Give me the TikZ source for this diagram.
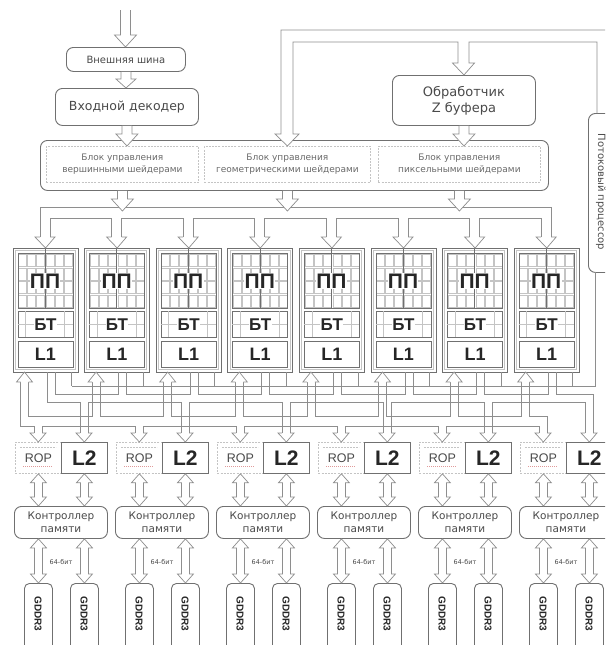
\documentclass[tikz,border=0pt]{standalone}
\usepackage{fontspec}
\setmainfont{DejaVu Sans}
\newfontfamily\arialf{Liberation Sans}
\usetikzlibrary{calc}
\definecolor{ln}{HTML}{8E8E8E}
\definecolor{bx}{HTML}{707070}
\definecolor{tx}{HTML}{4A4A4A}
\definecolor{tx2}{HTML}{6A6A6A}
\definecolor{grd}{HTML}{C4C4C4}
\definecolor{ropred}{HTML}{E09A9A}
\tikzset{
  rbox/.style={draw=bx, line width=0.9pt, rounded corners=7pt, fill=white, inner sep=0pt, align=center, text=tx, anchor=north west},
  sqbox/.style={draw=bx, line width=0.8pt, fill=white, inner sep=0pt, align=center, anchor=north west},
  dbox/.style={draw=grd, line width=0.8pt, dash pattern=on 2pt off 1.2pt, fill=white, inner sep=0pt, align=center, text=tx2, anchor=north west},
  wire/.style={draw=ln, line width=0.7pt, line join=miter},
  harr/.style={draw=ln, line width=0.7pt, fill=white, line join=miter},
  hdown/.style={harr, to path={let \p1=(\tikztostart), \p2=(\tikztotarget) in
     (\x1-5pt,\y1) -- (\x1-5pt,\y2+12pt) -- (\x1-11pt,\y2+12pt) -- (\x1,\y2) -- (\x1+11pt,\y2+12pt) -- (\x1+5pt,\y2+12pt) -- (\x1+5pt,\y1)}},
  hdowns/.style={harr, to path={let \p1=(\tikztostart), \p2=(\tikztotarget) in
     (\x1-5pt,\y1) -- (\x1-5pt,\y2+9pt) -- (\x1-10pt,\y2+9pt) -- (\x1,\y2) -- (\x1+10pt,\y2+9pt) -- (\x1+5pt,\y2+9pt) -- (\x1+5pt,\y1)}},
  hdd/.style={harr, to path={let \p1=(\tikztostart), \p2=(\tikztotarget) in
     (\x1,\y1) -- (\x1-8pt,\y1-9pt) -- (\x1-4pt,\y1-9pt) -- (\x1-4pt,\y2+9pt) -- (\x1-8pt,\y2+9pt) -- (\x1,\y2) -- (\x1+8pt,\y2+9pt) -- (\x1+4pt,\y2+9pt) -- (\x1+4pt,\y1-9pt) -- (\x1+8pt,\y1-9pt) -- cycle}},
  bigtxt/.style={font=\arialf\bfseries\fontsize{#1}{#1}\selectfont, text=black!85},
}
\begin{document}
\begin{tikzpicture}[x=1pt,y=-1pt]
\clip (0,0) rectangle (605,645);
\fill[white] (0,0) rectangle (605,645);

% ---------- top part ----------
\coordinate (in0) at (125.5,10);
\node[rbox, minimum width=119pt, minimum height=24pt, font=\fontsize{10}{12}\selectfont] (bus) at (66,47) {Внешняя шина};
\node[rbox, minimum width=143pt, minimum height=37pt, font=\fontsize{12.5}{14}\selectfont] (dec) at (55,88) {Входной декодер};
\node[rbox, minimum width=143pt, minimum height=50pt, font=\fontsize{13}{16}\selectfont] (zb) at (392,75) {Обработчик\\Z буфера};
\node[rbox, minimum width=508pt, minimum height=50pt] (ctrl) at (40,140) {};
\node[dbox, minimum width=152pt, minimum height=36pt, font=\fontsize{9}{12}\selectfont] (vs) at (46,146) {Блок управления\\вершинными шейдерами};
\node[dbox, minimum width=166pt, minimum height=36pt, font=\fontsize{9}{12}\selectfont] (gs) at (204,146) {Блок управления\\геометрическими шейдерами};
\node[dbox, minimum width=162pt, minimum height=36pt, font=\fontsize{9}{12}\selectfont] (ps) at (378,146) {Блок управления\\пиксельными шейдерами};
\node[rbox, minimum width=40pt, minimum height=159pt] (potok) at (588,113) {};
\node[rotate=-90, font=\fontsize{10}{12}\selectfont, text=tx] (potoktxt) at (601,192) {Потоковый процессор};

\draw[hdown] (in0) to (bus.north);
\draw[hdowns] (bus.south) to (dec.north);
\draw[hdown] (dec.south) to (vs.north);
\draw[hdown] (zb.south) to (ps.north);
% pipe from stream processor to geometry block and Z buffer
\draw[harr] (612,30) -- (281,30) -- (281,134) -- (275,134) -- (gs.north) -- (299,134) -- (293,134)
  -- (293,42) -- (458,42) -- (458,63) -- (452.5,63) -- (zb.north) -- (474.5,63) -- (469,63)
  -- (469,42) -- (597,42) -- (597,113);

% ---------- distribution bus to SMs ----------
\coordinate (bustip) at (0,211);
\draw[wire] (40,237) -- (40,207) -- (551.2,207) -- (551.2,237);
\foreach \i in {1,...,7}{
  \pgfmathsetmacro\Ca{45+71.6*(\i-1)}
  \pgfmathsetmacro\Cb{45+71.6*\i}
  \draw[wire] (\Ca+5,237) -- (\Ca+5,218) -- (\Cb-5,218) -- (\Cb-5,237);
}
\draw[hdown] (vs.south |- ctrl.south) to (vs.south |- bustip);
\draw[hdown] (gs.south |- ctrl.south) to (gs.south |- bustip);
\draw[hdown] (ps.south |- ctrl.south) to (ps.south |- bustip);

% ---------- SMs ----------
\foreach \i in {1,...,8}{
  \pgfmathsetmacro\L{12.5+71.6*(\i-1)}
  \pgfmathsetmacro\C{\L+32.5}
  \node[sqbox, line width=1.1pt, minimum width=65pt, minimum height=124pt] (sm\i) at (\L,248) {};
  \draw[draw=grd, line width=0.6pt] (\L+2.5,250.5) rectangle (\L+62.5,369.5);
  \foreach \c in {0,1,2}{\foreach \r in {0,1,2,3}{
    \draw[draw=grd, line width=0.6pt] (\L+6+9*\c, 254.5+13.5*\r) rectangle ++(8,12);
    \draw[draw=grd, line width=0.6pt] (\L+34+9*\c, 254.5+13.5*\r) rectangle ++(8,12);
  }}
  \node[draw=bx, line width=0.6pt, anchor=north west, minimum width=55pt, minimum height=55pt, inner sep=0pt] (pp\i) at (\L+5,253) {};
  \draw[draw=bx, line width=0.6pt] (\C,248) -- (\C,308);
  \node[bigtxt=21, fill=white, inner sep=0.3pt] (pptxt\i) at (\C,281) {ПП};
  \node[sqbox, minimum width=55pt, minimum height=26pt] (bt\i) at (\L+5,311) {};
  \draw[draw=grd, line width=0.6pt] (\L+5,324) -- (\L+60,324) (\L+13,311) -- (\L+13,337) (\L+52,311) -- (\L+52,337);
  \node[bigtxt=17, fill=white, inner sep=0.3pt] (bttxt\i) at (bt\i.center) {БТ};
  \node[sqbox, minimum width=55pt, minimum height=26pt, bigtxt=18] (lone\i) at (\L+5,341) {L1};
  \draw[harr] (\C-5,237) -- (\C-10,237) -- (sm\i.north) -- (\C+10,237) -- (\C+5,237);
}

% ---------- ROP / L2 / memory ----------
\foreach \j in {1,...,6}{
  \pgfmathsetmacro\P{15+101*(\j-1)}
  \node[dbox, minimum width=46pt, minimum height=31pt, text=tx, font=\arialf\fontsize{12.5}{13}\selectfont] (rop\j) at (\P,442) {ROP};
  \draw[draw=grd, line width=0.5pt, dash pattern=on 2pt off 1pt] (\P+5,447) -- (\P+41,447);
  \draw[draw=ropred, line width=0.7pt, dash pattern=on 1pt off 1pt] (\P+8,466) -- (\P+38,466);
  \node[sqbox, minimum width=46pt, minimum height=31pt, bigtxt=21] (ltwo\j) at (\P+46,442) {L2};
  \node[rbox, minimum width=93pt, minimum height=32pt, font=\fontsize{10.5}{13}\selectfont] (mc\j) at (\P-1,506) {Контроллер\\памяти};
  \node[rbox, rounded corners=5pt, minimum width=28pt, minimum height=75pt] (ddra\j) at (\P+9,583) {};
  \node[rbox, rounded corners=5pt, minimum width=28pt, minimum height=75pt] (ddrb\j) at (\P+55,583) {};
  \node[rotate=-90, bigtxt=10] (ga\j) at (\P+23,614) {GDDR3};
  \node[rotate=-90, bigtxt=10] (gb\j) at (\P+69,614) {GDDR3};
  \draw[hdd] (rop\j.south) to (rop\j.south |- mc\j.north);
  \draw[hdd] (ltwo\j.south) to (ltwo\j.south |- mc\j.north);
  \draw[hdd] (mc\j.south -| ddra\j.north) to (ddra\j.north);
  \draw[hdd] (mc\j.south -| ddrb\j.north) to (ddrb\j.north);
  \node[font=\fontsize{6.5}{7}\selectfont, text=tx] (bits\j) at (\P+46,562) {64-бит};
}

% ---------- crossbar ----------
% stream-out line to the stream processor
\draw[wire] (595,272) -- (595,386) -- (71.5,386);
\foreach \i in {1,...,8}{
  \pgfmathsetmacro\L{12.5+71.6*(\i-1)}
  \draw[wire] (\L+59,372) -- (\L+59,386);
}
% pipe D: SMs -> L2
\foreach \i in {1,...,7}{
  \pgfmathsetmacro\Ca{45+71.6*(\i-1)}
  \pgfmathsetmacro\Cb{45+71.6*\i}
  \draw[wire] (\Ca+10,372) -- (\Ca+10,394) -- (\Cb+2,394) -- (\Cb+2,372);
}
\draw[wire] (556.2,372) -- (556.2,394) -- (593,394) -- (593,433);
\draw[wire] (47,372) -- (47,402) -- (80,402) -- (80,433);
\foreach \j in {1,...,5}{
  \pgfmathsetmacro\la{84+101*(\j-1)}
  \pgfmathsetmacro\lb{84+101*\j}
  \draw[wire] (\la+4,433) -- (\la+4,402) -- (\lb-4,402) -- (\lb-4,433);
}
% pipe U: -> SMs and -> ROP
\foreach \i in {1,...,7}{
  \pgfmathsetmacro\ua{24.5+71.6*(\i-1)}
  \pgfmathsetmacro\ub{24.5+71.6*\i}
  \draw[wire] (\ua+4,382) -- (\ua+4,416) -- (\ub-4,416) -- (\ub-4,382);
}
\draw[wire] (529.7,382) -- (529.7,416) -- (547,416) -- (547,433);
\draw[wire] (20.5,382) -- (20.5,426) -- (34,426) -- (34,433);
\foreach \j in {1,...,5}{
  \pgfmathsetmacro\ra{38+101*(\j-1)}
  \pgfmathsetmacro\rb{38+101*\j}
  \draw[wire] (\ra+4,433) -- (\ra+4,426) -- (\rb-4,426) -- (\rb-4,433);
}
% arrow heads
\foreach \i in {1,...,8}{
  \pgfmathsetmacro\u{24.5+71.6*(\i-1)}
  \draw[harr] (\u-4,382) -- (\u-8,382) -- (\u,372) -- (\u+8,382) -- (\u+4,382);
}
\foreach \j in {1,...,6}{
  \pgfmathsetmacro\r{38+101*(\j-1)}
  \pgfmathsetmacro\l{84+101*(\j-1)}
  \draw[harr] (\r-4,433) -- (\r-8,433) -- (rop\j.north) -- (\r+8,433) -- (\r+4,433);
  \draw[harr] (\l-4,433) -- (\l-8,433) -- (ltwo\j.north) -- (\l+8,433) -- (\l+4,433);
}
\end{tikzpicture}
\end{document}
